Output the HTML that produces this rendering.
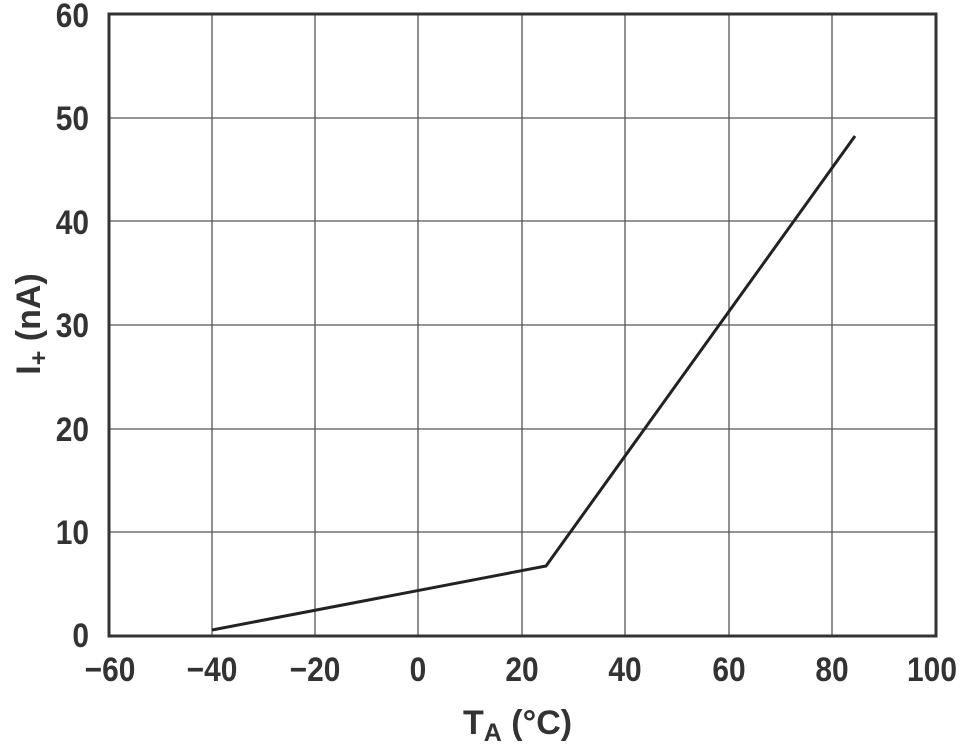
<!DOCTYPE html>
<html><head><meta charset="utf-8"><style>body{margin:0;background:#fff}</style></head><body>
<svg width="960" height="743" xmlns="http://www.w3.org/2000/svg" font-family="Liberation Sans, Arial, sans-serif" font-weight="bold" fill="#333">
<g stroke="#555" stroke-width="1.3">
<line x1="212" y1="14" x2="212" y2="636"/><line x1="315" y1="14" x2="315" y2="636"/><line x1="418" y1="14" x2="418" y2="636"/><line x1="522" y1="14" x2="522" y2="636"/><line x1="625" y1="14" x2="625" y2="636"/><line x1="729" y1="14" x2="729" y2="636"/><line x1="832" y1="14" x2="832" y2="636"/>
<line x1="108" y1="118" x2="937" y2="118"/><line x1="108" y1="221" x2="937" y2="221"/><line x1="108" y1="325" x2="937" y2="325"/><line x1="108" y1="429" x2="937" y2="429"/><line x1="108" y1="532" x2="937" y2="532"/>
</g>
<rect x="109" y="14" width="827" height="622" fill="none" stroke="#333" stroke-width="3"/>
<polyline points="212,630 546,566 855,136" fill="none" stroke="#222" stroke-width="3"/>
<g font-size="34" text-anchor="end">
<text transform="translate(89,27) scale(0.88,1)">60</text><text transform="translate(89,130) scale(0.88,1)">50</text><text transform="translate(89,234) scale(0.88,1)">40</text><text transform="translate(89,337) scale(0.88,1)">30</text><text transform="translate(89,441) scale(0.88,1)">20</text><text transform="translate(89,544) scale(0.88,1)">10</text><text transform="translate(89,647) scale(0.88,1)">0</text>
</g>
<g font-size="34" text-anchor="middle">
<text transform="translate(110,681) scale(0.88,1)">−60</text><text transform="translate(212,681) scale(0.88,1)">−40</text><text transform="translate(315,681) scale(0.88,1)">−20</text><text transform="translate(418,681) scale(0.88,1)">0</text><text transform="translate(522,681) scale(0.88,1)">20</text><text transform="translate(625,681) scale(0.88,1)">40</text><text transform="translate(729,681) scale(0.88,1)">60</text><text transform="translate(832,681) scale(0.88,1)">80</text><text transform="translate(932,681) scale(0.88,1)">100</text>
</g>
<text transform="translate(463,734)" font-size="34">T<tspan font-size="25" dy="7">A</tspan><tspan dy="-7"> (°C)</tspan></text>
<text transform="translate(40,324) rotate(-90)" text-anchor="middle" font-size="34">I<tspan font-size="25" dy="7">+</tspan><tspan dy="-7"> (nA)</tspan></text>
</svg>
</body></html>
